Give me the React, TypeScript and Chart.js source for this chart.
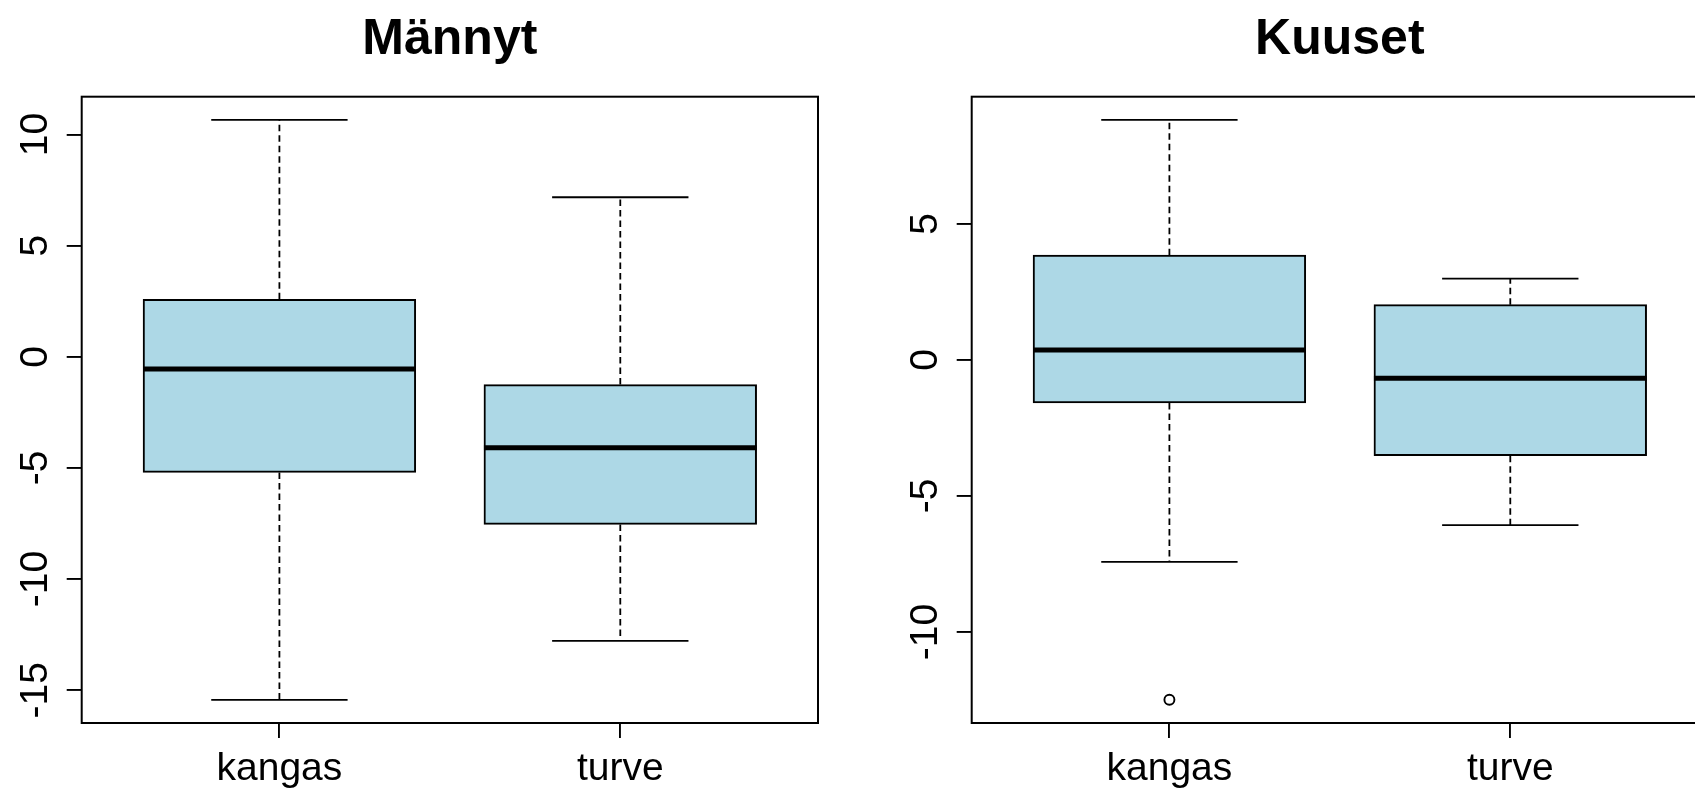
import React, { useEffect, useRef } from "react";
import { Chart, registerables } from "chart.js";

Chart.register(...registerables);

const FONT = "'Liberation Sans', Arial, Helvetica, sans-serif";

// categories and their positions on the x axis
const CATEGORIES = ["kangas", "turve"];
const CAT_X = [1, 2];

// Männyt (left panel)
const MANNYT_LOW = [-15.43, -12.78];
const MANNYT_Q1 = [-5.2, -7.54];
const MANNYT_MEDIAN = [-0.55, -4.09];
const MANNYT_Q3 = [2.59, -1.25];
const MANNYT_HIGH = [10.66, 7.18];
const MANNYT_OUTLIERS: number[][] = [[], []];
const MANNYT_TICKS = [-15, -10, -5, 0, 5, 10];

// Kuuset (right panel)
const KUUSET_LOW = [-7.42, -6.07];
const KUUSET_Q1 = [-1.58, -3.52];
const KUUSET_MEDIAN = [0.36, -0.67];
const KUUSET_Q3 = [3.85, 2.03];
const KUUSET_HIGH = [8.82, 2.99];
const KUUSET_OUTLIERS: number[][] = [[-12.49], []];
const KUUSET_TICKS = [-10, -5, 0, 5];

const X_TICKS = [1, 2];

type PanelData = {
  title: string;
  low: number[];
  q1: number[];
  median: number[];
  q3: number[];
  high: number[];
  outliers: number[][];
  ticks: number[];
};

const rboxPlugin = {
  id: "rbox",
  afterDatasetsDraw(chart: any, _args: any, opts: any) {
    const { ctx } = chart;
    const x = chart.scales.x;
    const y = chart.scales.y;
    const d: PanelData = opts.data;
    ctx.save();
    ctx.strokeStyle = "#000";
    CAT_X.forEach((cx, i) => {
      const px = x.getPixelForValue(cx);
      // dashed whiskers
      ctx.lineWidth = 1.8;
      ctx.setLineDash([6.5, 4]);
      ctx.beginPath();
      ctx.moveTo(px, y.getPixelForValue(d.q3[i]));
      ctx.lineTo(px, y.getPixelForValue(d.high[i]));
      ctx.moveTo(px, y.getPixelForValue(d.q1[i]));
      ctx.lineTo(px, y.getPixelForValue(d.low[i]));
      ctx.stroke();
      ctx.setLineDash([]);
      // caps
      const cl = x.getPixelForValue(cx - 0.2);
      const cr = x.getPixelForValue(cx + 0.2);
      ctx.beginPath();
      ctx.moveTo(cl, y.getPixelForValue(d.high[i]));
      ctx.lineTo(cr, y.getPixelForValue(d.high[i]));
      ctx.moveTo(cl, y.getPixelForValue(d.low[i]));
      ctx.lineTo(cr, y.getPixelForValue(d.low[i]));
      ctx.stroke();
      // median
      ctx.lineWidth = 5;
      ctx.lineCap = "butt";
      ctx.beginPath();
      const my = y.getPixelForValue(d.median[i]);
      ctx.moveTo(x.getPixelForValue(cx - 0.4), my);
      ctx.lineTo(x.getPixelForValue(cx + 0.4), my);
      ctx.stroke();
    });
    ctx.restore();
  },
  afterDraw(chart: any, _args: any, opts: any) {
    const { ctx, chartArea } = chart;
    const x = chart.scales.x;
    const y = chart.scales.y;
    const d: PanelData = opts.data;
    ctx.save();
    // frame
    ctx.strokeStyle = "#000";
    ctx.lineWidth = 2;
    ctx.strokeRect(
      chartArea.left,
      chartArea.top,
      chartArea.right - chartArea.left,
      chartArea.bottom - chartArea.top
    );
    ctx.fillStyle = "#000";
    // y tick labels (rotated)
    ctx.font = `39px ${FONT}`;
    d.ticks.forEach((v) => {
      const py = y.getPixelForValue(v);
      ctx.save();
      ctx.translate(chartArea.left - 35, py);
      ctx.rotate(-Math.PI / 2);
      ctx.textAlign = "center";
      ctx.textBaseline = "alphabetic";
      ctx.fillText(String(v), 0, 0);
      ctx.restore();
    });
    // x tick labels
    ctx.textAlign = "center";
    ctx.textBaseline = "alphabetic";
    CATEGORIES.forEach((c, i) => {
      ctx.fillText(c, x.getPixelForValue(CAT_X[i]), chartArea.bottom + 57);
    });
    // title
    ctx.font = `bold 50px ${FONT}`;
    ctx.fillText(d.title, (chartArea.left + chartArea.right) / 2, 54);
    ctx.restore();
  },
};

type PanelProps = {
  data: PanelData;
  left: number;
  width: number;
  padLeft: number;
  padRight: number;
};

const HEIGHT = 789;
const PLOT_TOP = 96.7;
const PLOT_BOTTOM = 723;
const X_MIN = 0.42;
const X_MAX = 2.58;
const PLOT_WIDTH = 736.3;

function Panel({ data, left, width, padLeft, padRight }: PanelProps) {
  const ref = useRef<HTMLCanvasElement | null>(null);
  useEffect(() => {
    if (!ref.current) return;
    const all = [...data.low, ...data.high, ...data.outliers.flat()];
    const lo = Math.min(...all);
    const hi = Math.max(...all);
    const ext = (hi - lo) * 0.04;
    const barThickness = (PLOT_WIDTH * 0.8) / (X_MAX - X_MIN);
    const outlierPoints: { x: number; y: number }[] = [];
    data.outliers.forEach((arr, i) =>
      arr.forEach((v) => outlierPoints.push({ x: CAT_X[i], y: v }))
    );
    const chart = new Chart(ref.current, {
      type: "bar",
      data: {
        datasets: [
          {
            type: "bar",
            data: CAT_X.map((cx, i) => ({ x: cx, y: [data.q1[i], data.q3[i]] })) as any,
            backgroundColor: "#ADD8E6",
            borderColor: "#000",
            borderWidth: 2,
            borderSkipped: false,
            barThickness,
          } as any,
          {
            type: "scatter",
            data: outlierPoints,
            pointRadius: 5,
            pointBorderWidth: 1.9,
            borderColor: "#000",
            backgroundColor: "rgba(0,0,0,0)",
            pointStyle: "circle",
          } as any,
        ],
      },
      options: {
        responsive: false,
        animation: false,
        events: [],
        layout: {
          padding: {
            left: padLeft,
            right: padRight,
            top: PLOT_TOP,
            bottom: HEIGHT - PLOT_BOTTOM - 40,
          },
        },
        scales: {
          x: {
            type: "linear",
            min: X_MIN,
            max: X_MAX,
            offset: false,
            afterBuildTicks: (s: any) => {
              s.ticks = X_TICKS.map((v) => ({ value: v }));
            },
            afterFit: (s: any) => {
              s.height = 40;
            },
            ticks: { display: false },
            grid: {
              offset: false,
              drawOnChartArea: false,
              drawTicks: true,
              tickLength: 15,
              color: "#000",
              lineWidth: 1.9,
            },
            border: { display: false },
          },
          y: {
            type: "linear",
            min: lo - ext,
            max: hi + ext,
            afterBuildTicks: (s: any) => {
              s.ticks = data.ticks.map((v) => ({ value: v }));
            },
            afterFit: (s: any) => {
              s.width = 60;
            },
            ticks: { display: false },
            grid: {
              offset: false,
              drawOnChartArea: false,
              drawTicks: true,
              tickLength: 15,
              color: "#000",
              lineWidth: 1.9,
            },
            border: { display: false },
          },
        },
        plugins: {
          legend: { display: false },
          tooltip: { enabled: false },
          title: { display: false },
          rbox: { data },
        } as any,
      },
      plugins: [rboxPlugin as any],
    });
    return () => chart.destroy();
  }, [data, padLeft, padRight]);
  return (
    <canvas
      ref={ref}
      width={width}
      height={HEIGHT}
      style={{ position: "absolute", left, top: 0, width, height: HEIGHT }}
    />
  );
}

const MANNYT: PanelData = {
  title: "Männyt",
  low: MANNYT_LOW,
  q1: MANNYT_Q1,
  median: MANNYT_MEDIAN,
  q3: MANNYT_Q3,
  high: MANNYT_HIGH,
  outliers: MANNYT_OUTLIERS,
  ticks: MANNYT_TICKS,
};

const KUUSET: PanelData = {
  title: "Kuuset",
  low: KUUSET_LOW,
  q1: KUUSET_Q1,
  median: KUUSET_MEDIAN,
  q3: KUUSET_Q3,
  high: KUUSET_HIGH,
  outliers: KUUSET_OUTLIERS,
  ticks: KUUSET_TICKS,
};

export default function App() {
  return (
    <div
      style={{
        position: "fixed",
        left: 0,
        top: 0,
        width: 1695,
        height: HEIGHT,
        overflow: "hidden",
        background: "#fff",
      }}
    >
      <Panel data={MANNYT} left={0} width={860} padLeft={21.7} padRight={42} />
      <Panel data={KUUSET} left={860} width={900} padLeft={51.7} padRight={52} />
    </div>
  );
}
